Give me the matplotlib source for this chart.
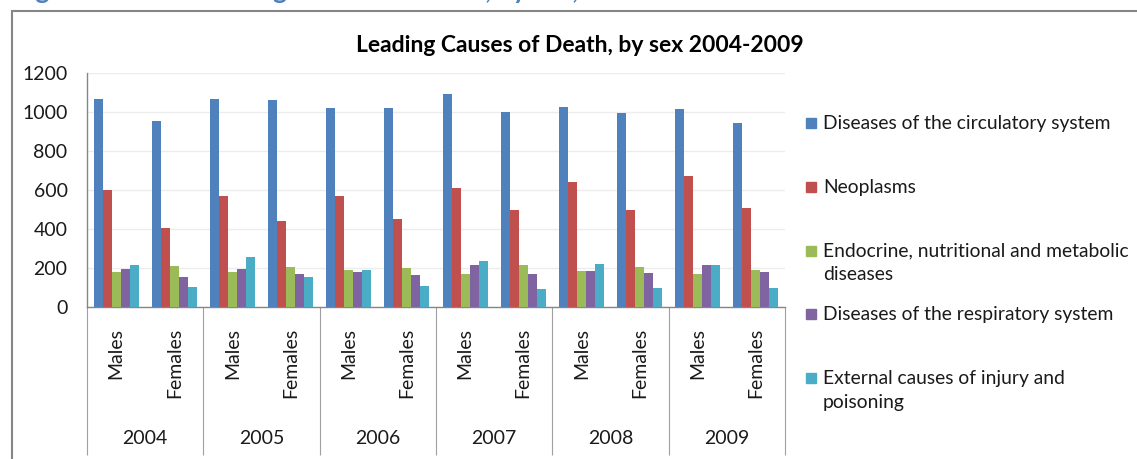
import matplotlib.pyplot as plt
import matplotlib.transforms as mtransforms
from matplotlib.patches import Rectangle
import numpy as np

plt.rcParams['font.family'] = ['Lato', 'DejaVu Sans']

W, H = 1137, 459

years = ['2004', '2005', '2006', '2007', '2008', '2009']
sexes = ['Males', 'Females']

# deaths per category, Males/Females alternating for each year
circulatory = [1067, 952, 1067, 1062, 1021, 1021, 1094, 1000, 1024, 994, 1016, 942]
neoplasms = [602, 404, 571, 441, 571, 451, 612, 499, 643, 499, 670, 510]
endocrine = [181, 210, 180, 205, 190, 200, 169, 215, 186, 205, 169, 190]
respiratory = [195, 154, 197, 169, 180, 164, 215, 169, 186, 174, 215, 180]
external = [217, 101, 258, 154, 190, 106, 238, 91, 222, 96, 215, 96]

series_labels = ['Diseases of the circulatory system',
                 'Neoplasms',
                 'Endocrine, nutritional and metabolic\ndiseases',
                 'Diseases of the respiratory system',
                 'External causes of injury and\npoisoning']
colors = ['#4F81BD', '#C0504D', '#9BBB59', '#8064A2', '#4BACC6']
GRAY = '#868686'
TXT = '#1a1a1a'


def fx(px):
    return px / W


def fy(py):
    return 1 - py / H


fig = plt.figure(figsize=(W / 100, H / 100), dpi=100)

# caption line above the chart, mostly cut off
fig.text(fx(14), fy(-1), 'Figure 3.1: The Leading Causes of Death, by sex, 2004-2009',
         color='#4F81BD', fontsize=19, fontweight='bold', va='baseline', ha='left')

# chart frame
fig.patches.append(Rectangle((fx(12), fy(470)), fx(1200), fy(10.7) - fy(470),
                             transform=fig.transFigure, fill=False,
                             edgecolor=GRAY, linewidth=1.5))

ax = fig.add_axes([fx(87), fy(307), fx(785) - fx(87), fy(73) - fy(307)])

n_cat = len(years) * len(sexes)
centers = np.arange(n_cat) + 0.5
bw = 0.155
for j, vals in enumerate([circulatory, neoplasms, endocrine, respiratory, external]):
    ax.bar(centers + (j - 2) * bw, vals, width=bw, color=colors[j], linewidth=0, zorder=3)

ax.set_xlim(0, n_cat)
ax.set_ylim(0, 1200)
ax.set_yticks(np.arange(0, 1201, 200))
ax.yaxis.grid(True, color='#ececec', linewidth=1.0, zorder=0)
ax.tick_params(axis='y', length=0, pad=14, labelsize=14, labelcolor=TXT)

for s in ['top', 'right']:
    ax.spines[s].set_visible(False)
for s in ['left', 'bottom']:
    ax.spines[s].set_color(GRAY)
    ax.spines[s].set_linewidth(1.0)

# year boundaries as long major ticks, sex labels on minor ticks
ax.set_xticks(np.arange(0, n_cat + 1, 2))
ax.set_xticklabels([])
ax.tick_params(axis='x', which='major', length=148 * 0.72, width=0.8, color='#a0a0a0')
ax.set_xticks(centers, minor=True)
ax.set_xticklabels(sexes * len(years), minor=True, rotation=90, va='top', ha='center')
ax.tick_params(axis='x', which='minor', length=0, pad=15, labelsize=14, labelcolor=TXT)

trans = mtransforms.blended_transform_factory(ax.transData, ax.transAxes)
for i, yr in enumerate(years):
    ax.text(2 * i + 1, -131 / 234, yr, transform=trans, ha='center', va='center',
            fontsize=14, color=TXT)

fig.text(fx(580), fy(46), 'Leading Causes of Death, by sex 2004-2009',
         ha='center', va='center', fontsize=16.5, fontweight='bold', color='black')

# legend
for i, (lab, col) in enumerate(zip(series_labels, colors)):
    yc = 123 + i * 63.75
    fig.patches.append(Rectangle((fx(806), fy(yc + 5)), fx(10), fy(yc - 5) - fy(yc + 5),
                                 transform=fig.transFigure, color=col))
    fig.text(fx(823), fy(yc - 8), lab, ha='left', va='top', fontsize=13.9,
             color=TXT, linespacing=1.5)

fig.savefig('out.png', dpi=100)
